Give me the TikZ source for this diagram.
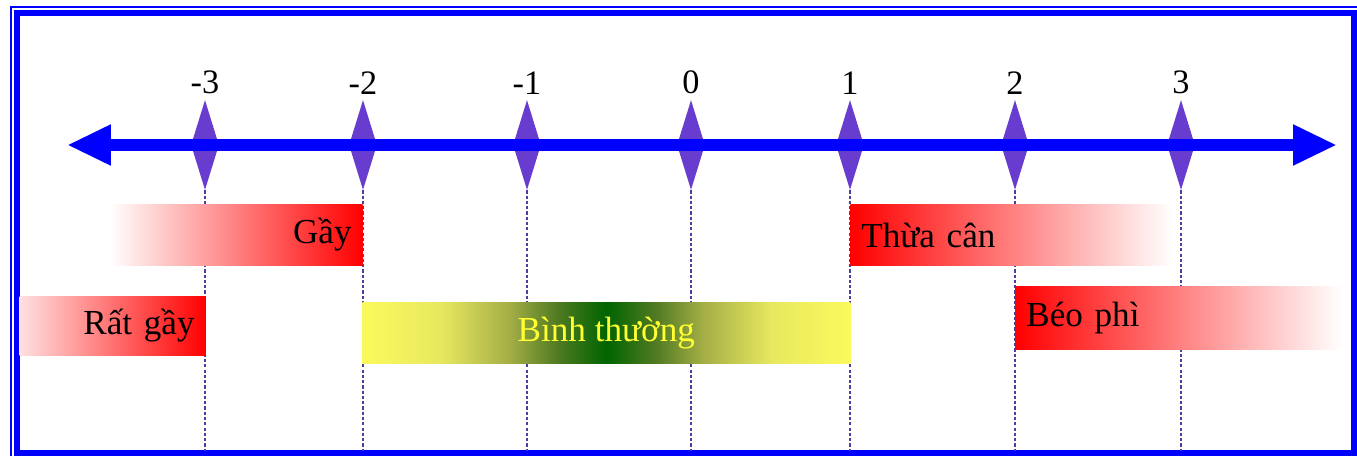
\documentclass[tikz,border=0pt]{standalone}
\usepackage{fontspec}
\setmainfont{Liberation Serif}
\usepackage{tikz}
\usetikzlibrary{positioning, arrows.meta, shapes.geometric}

\definecolor{axisblue}{RGB}{0,0,255}
\definecolor{tickpurple}{RGB}{104,60,206}
\definecolor{guidepurple}{RGB}{78,62,160}
\definecolor{normyellow}{RGB}{250,250,92}
\definecolor{normpale}{RGB}{232,232,96}
\definecolor{normolive}{RGB}{165,175,70}
\definecolor{normdark}{RGB}{80,122,34}
\definecolor{normgreen}{RGB}{0,100,0}
\definecolor{normtext}{RGB}{255,255,50}
\pgfdeclarehorizontalshading{normalshade}{100bp}{color(0bp)=(normyellow); color(25bp)=(normyellow); color(33bp)=(normpale); color(40bp)=(normolive); color(45bp)=(normdark); color(50bp)=(normgreen); color(55bp)=(normdark); color(60bp)=(normolive); color(67bp)=(normpale); color(75bp)=(normyellow); color(100bp)=(normyellow)}

\begin{document}
\begin{tikzpicture}[
        x=0.02cm, y=-0.02cm,
        tick/.style={diamond, fill=tickpurple, minimum width=0.56cm, minimum height=1.8cm, inner sep=0pt},
        num/.style={inner sep=0pt, font=\fontsize{19.5}{23}\selectfont},
        guide/.style={guidepurple, line width=0.8pt, dash pattern=on 1.8pt off 1.2pt},
        bar/.style={rectangle, minimum height=1.22cm, inner xsep=0.22cm, inner ysep=0pt, font=\fontsize{20}{24}\selectfont}
    ]
    \useasboundingbox (0,0) rectangle (1357,456);
    \draw[axisblue, line width=0.04cm] (11,7) rectangle (1364,464);
    \draw[axisblue, line width=0.12cm] (17,13) rectangle (1354,453);

    \coordinate (floor) at (0,451);
    \coordinate (axisL) at (67,145);
    \coordinate (axisR) at (1337,145);

    % ticks on the scale, with their values
    \foreach \i/\x in {-3/205, -2/363, -1/527, 0/691, 1/850, 2/1015, 3/1181} {
        \node[tick] (t\i) at (\x,145) {};
        \node[num, above=0.1cm of t\i] (n\i) {\i};
        \draw[guide] (t\i.south) -- (t\i.south |- floor);
    }

    \node[bar, anchor=east, left color=white, right color=red, text width=4.62cm, align=right] (gay) at (363,235) {Gầy};
    \node[bar, anchor=east, left color=red!12, right color=red, text width=3.28cm, align=right, minimum height=1.2cm] (ratgay) at (206,326) {Rất gầy};
    \node[bar, anchor=west, shade, shading=normalshade, minimum width=9.76cm, minimum height=1.24cm, text=normtext] (binhthuong) at (362,333) {Bình thường};
    \node[bar, anchor=west, left color=red, right color=white, text width=6.0cm, align=left] (thuacan) at (850,235) {Thừa cân};
    \node[bar, anchor=west, left color=red, right color=white, text width=6.1cm, align=left, minimum height=1.26cm] (beophi) at (1015,318) {Béo phì};

    \draw[axisblue, line width=0.24cm, {Triangle[length=0.88cm, width=0.76cm]}-{Triangle[length=0.88cm, width=0.76cm]}] (axisL) -- (axisR);
\end{tikzpicture}
\end{document}
